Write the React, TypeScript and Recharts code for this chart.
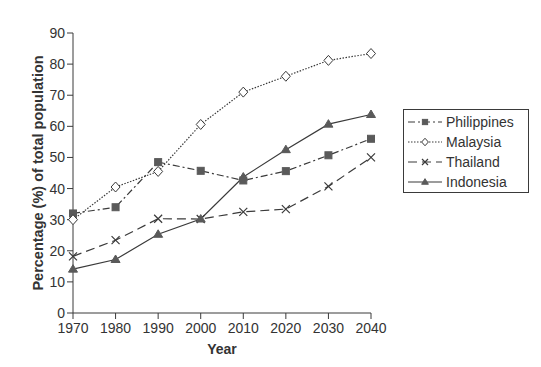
import { Line, LineChart, XAxis, YAxis } from 'recharts'

const years = [1970, 1980, 1990, 2000, 2010, 2020, 2030, 2040]
const philippines = [32, 34, 48.5, 45.7, 42.6, 45.6, 50.7, 56]
const malaysia = [30, 40.5, 45.5, 60.6, 71, 76.1, 81.2, 83.4]
const thailand = [18.2, 23.4, 30.3, 30.2, 32.5, 33.4, 40.7, 50]
const indonesia = [14.1, 17.2, 25.3, 30.2, 43.7, 52.5, 60.7, 63.8]
const yTicks = [0, 10, 20, 30, 40, 50, 60, 70, 80, 90]

const data = years.map((year, i) => ({
  year,
  philippines: philippines[i],
  malaysia: malaysia[i],
  thailand: thailand[i],
  indonesia: indonesia[i],
}))

const ink = '#3a3a3a'
const fillGrey = '#5a5a5a'
const font = '"Liberation Sans", Arial, sans-serif'

type Kind = 'square' | 'diamond' | 'cross' | 'triangle'

function Marker({ kind, cx, cy, s = 1 }: { kind: Kind; cx: number; cy: number; s?: number }) {
  if (kind === 'square')
    return <rect x={cx - 3.5 * s} y={cy - 3.5 * s} width={7 * s} height={7 * s} fill={fillGrey} stroke={fillGrey} />
  if (kind === 'diamond')
    return (
      <polygon
        points={`${cx},${cy - 5 * s} ${cx + 4.5 * s},${cy} ${cx},${cy + 5 * s} ${cx - 4.5 * s},${cy}`}
        fill="#fff"
        stroke={ink}
        strokeWidth={1}
      />
    )
  if (kind === 'cross')
    return (
      <path
        d={`M${cx - 4 * s},${cy - 4 * s}L${cx + 4 * s},${cy + 4 * s}M${cx + 4 * s},${cy - 4 * s}L${cx - 4 * s},${cy + 4 * s}`}
        stroke={ink}
        strokeWidth={1.2}
      />
    )
  return (
    <polygon
      points={`${cx},${cy - 4.5 * s} ${cx + 4.5 * s},${cy + 3 * s} ${cx - 4.5 * s},${cy + 3 * s}`}
      fill={fillGrey}
      stroke={fillGrey}
    />
  )
}

const series: { key: string; name: string; dash?: string; kind: Kind }[] = [
  { key: 'philippines', name: 'Philippines', dash: '7 3 2 3', kind: 'square' },
  { key: 'malaysia', name: 'Malaysia', dash: '1.5 1.5', kind: 'diamond' },
  { key: 'thailand', name: 'Thailand', dash: '9 5', kind: 'cross' },
  { key: 'indonesia', name: 'Indonesia', kind: 'triangle' },
]

function LegendBox() {
  return (
    <div
      style={{
        position: 'absolute',
        left: 403,
        top: 109,
        width: 126,
        height: 84,
        border: `1px solid ${ink}`,
        fontFamily: font,
        fontSize: 14,
        color: '#333',
        boxSizing: 'border-box',
        padding: '2px 0 0 4px',
      }}
    >
      {series.map((s) => (
        <div key={s.key} style={{ display: 'flex', alignItems: 'center', height: 20 }}>
          <svg width={34} height={14} style={{ marginRight: 4 }}>
            <line x1={0} y1={7} x2={34} y2={7} stroke={ink} strokeWidth={1.2} strokeDasharray={s.dash} />
            <Marker kind={s.kind} cx={17} cy={7} s={0.75} />
          </svg>
          <span>{s.name}</span>
        </div>
      ))}
    </div>
  )
}

export default function App() {
  return (
    <div style={{ position: 'absolute', left: 0, top: 0, width: 541, height: 367, background: '#fff' }}>
      <LineChart
        width={541}
        height={367}
        data={data}
        margin={{ top: 33, right: 170, bottom: 9, left: 0 }}
        style={{ fontFamily: font }}
      >
        <XAxis
          dataKey="year"
          type="number"
          domain={[1970, 2040]}
          ticks={years}
          height={45}
          stroke={ink}
          tickSize={6}
          tickMargin={4}
          tick={{ fill: '#333', fontSize: 14 }}
          label={{
            value: 'Year',
            position: 'insideBottom',
            offset: 4,
            style: { fill: '#333', fontSize: 14, fontWeight: 'bold' },
          }}
        />
        <YAxis
          type="number"
          domain={[0, 90]}
          ticks={yTicks}
          width={73}
          stroke={ink}
          tickSize={6}
          tick={{ fill: '#333', fontSize: 14 }}
          label={{
            value: 'Percentage (%) of total population',
            angle: -90,
            position: 'insideLeft',
            offset: 38,
            style: { fill: '#333', fontSize: 14.5, fontWeight: 'bold', textAnchor: 'middle' },
          }}
        />
        {series.map((s) => (
          <Line
            key={s.key}
            dataKey={s.key}
            name={s.name}
            stroke={ink}
            strokeWidth={1.2}
            strokeDasharray={s.dash}
            isAnimationActive={false}
            dot={(p: any) => <Marker key={`${s.key}-${p.index}`} kind={s.kind} cx={p.cx} cy={p.cy} />}
            activeDot={false}
          />
        ))}
      </LineChart>
      <LegendBox />
    </div>
  )
}
